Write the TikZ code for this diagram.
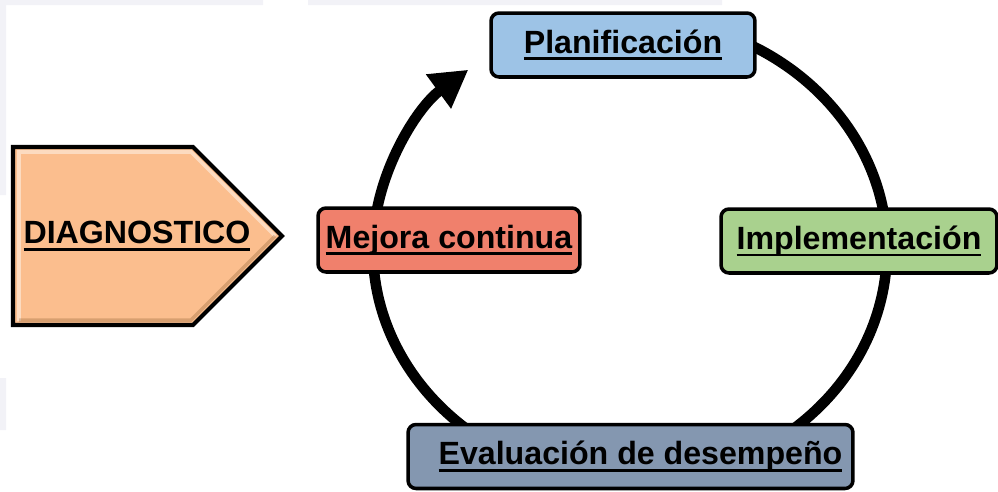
\documentclass[tikz,border=0pt]{standalone}
\usepackage{fontspec}
\setsansfont{Liberation Sans}
\usetikzlibrary{arrows.meta,calc}
\definecolor{planazul}{RGB}{157,195,230}
\definecolor{implverde}{RGB}{169,209,142}
\definecolor{evalazul}{RGB}{132,151,176}
\definecolor{mejorarojo}{RGB}{240,128,108}
\definecolor{diagnaranja}{RGB}{251,190,142}
\definecolor{fondotenue}{RGB}{242,242,247}
% subrayado grueso
\newcommand{\subrayado}[1]{\leavevmode\setbox0=\hbox{#1}\rlap{\vrule height -2.4pt depth 4.0pt width \wd0}\box0}

\begin{document}
\begin{tikzpicture}[x=0.02cm,y=-0.02cm,
  every node/.style={font=\sffamily\bfseries\fontsize{18.3}{20}\selectfont},
  etapa/.style={draw,line width=2pt,rounded corners=0.16cm,minimum height=1.28cm,inner sep=0pt}]
  \useasboundingbox (0,0) rectangle (998,491);
  % franjas tenues del fondo
  \fill[fondotenue] (0,0) rectangle (263,5) (308,0) rectangle (722,5)
        (0,5) rectangle (6,195) (0,378) rectangle (6,430);

  % ciclo: elipse casi completa, termina en flecha antes de Planificacion
  \coordinate (C) at (630,250);
  \draw[line width=6pt,-{Triangle[length=0.74cm,width=0.8cm]}]
        ([shift={(80:5.14cm and 4.64cm)}]C)
        arc[start angle=80,end angle=-231,x radius=5.14cm,y radius=4.64cm];

  % etapas del ciclo
  \node[etapa,fill=planazul,minimum width=5.28cm] (plan) at (623,45) {\subrayado{Planificación}};
  \node[etapa,fill=implverde,minimum width=5.52cm] (impl) at (859,241) {\subrayado{Implementación}};
  \node[etapa,fill=evalazul,minimum width=8.9cm] (eval) at (630.5,456.5)
        {\hspace*{0.4cm}\subrayado{Evaluación de desempeño}};
  \node[etapa,fill=mejorarojo,minimum width=5.24cm] (mejora) at (449,240) {\subrayado{Mejora continua}};

  % flecha de diagnostico con bisel
  \filldraw[fill=diagnaranja,line width=2.3pt,line join=miter]
        (13,147) -- (193,147) -- (282,236) -- (193,325) -- (13,325) -- cycle;
  \draw[white,opacity=0.45,line width=2pt] (19,321) -- (19,152) -- (191,152) -- (275,236);
  \draw[brown!70!black,opacity=0.3,line width=2pt] (275,236) -- (191,320) -- (19,320);
  \node (diag) at (137,236) {\subrayado{DIAGNOSTICO}};
\end{tikzpicture}
\end{document}
